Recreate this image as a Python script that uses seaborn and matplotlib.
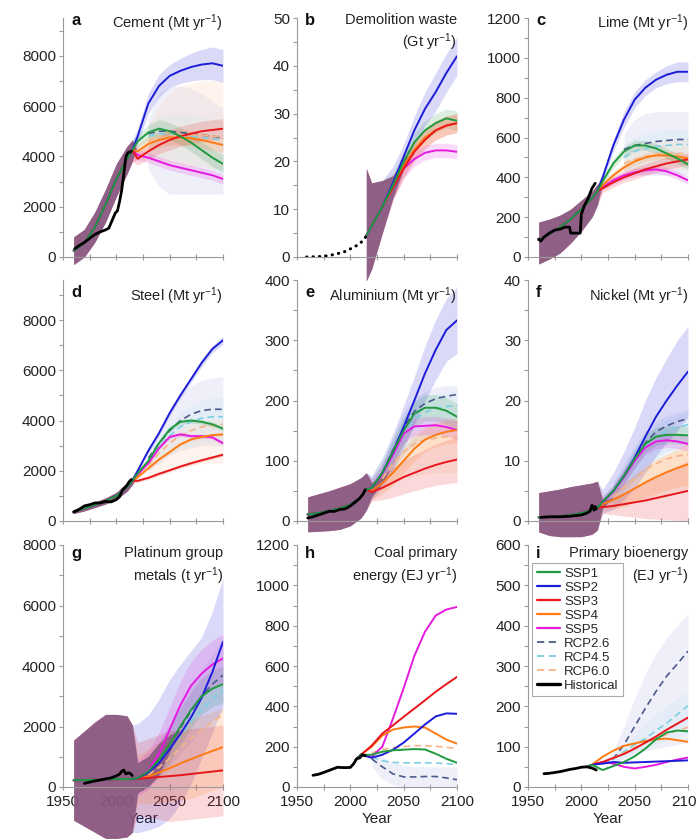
import numpy as np
import pandas as pd
import matplotlib
matplotlib.use("Agg")
import matplotlib.pyplot as plt
from matplotlib.lines import Line2D
from matplotlib.ticker import MultipleLocator, FixedLocator
import seaborn as sns

nan = np.nan

# shared year grids
PAST_YEARS = [1960, 1970, 1980, 1990, 2000, 2010, 2015]
FUT_YEARS = [2020, 2030, 2040, 2050, 2060, 2070, 2080, 2090, 2100]
SSP_NAMES = ["SSP1", "SSP2", "SSP3", "SSP4", "SSP5"]
RCP_NAMES = ["RCP2.6", "RCP4.5", "RCP6.0"]

# ---- a: cement (Mt/yr)
cement_hist_x = [1961, 1965, 1970, 1975, 1980, 1985, 1990, 1993, 1996, 1999, 2001, 2003, 2005, 2007, 2009, 2011, 2014]
cement_hist_y = [330, 450, 580, 740, 900, 1000, 1080, 1150, 1450, 1750, 1830, 2200, 2650, 3300, 4000, 4150, 4200]
cement_fit = [250, 550, 1200, 2100, 3100, 3900, 4250]
cement_fit_lo = [-300, 0, 600, 1400, 2400, 3300, 3800]
cement_fit_hi = [800, 1100, 1800, 2700, 3700, 4400, 4650]
cement_ssp1 = [4600, 4950, 5100, 5000, 4800, 4550, 4250, 3950, 3700]
cement_ssp2 = [4800, 6100, 6800, 7200, 7400, 7550, 7650, 7700, 7600]
cement_ssp3 = [3900, 4200, 4450, 4650, 4800, 4900, 5000, 5050, 5100]
cement_ssp4 = [4200, 4500, 4650, 4750, 4750, 4720, 4650, 4550, 4450]
cement_ssp5 = [4050, 3950, 3800, 3650, 3550, 3450, 3350, 3250, 3100]
cement_hw1 = [250, 300, 350, 350, 350, 350, 350, 350, 350]
cement_hw2 = [300, 400, 450, 450, 500, 550, 600, 650, 650]
cement_hw3 = [250, 300, 350, 400, 400, 400, 400, 400, 400]
cement_hw4 = [250, 300, 300, 300, 300, 300, 300, 300, 300]
cement_hw5 = [200, 200, 200, 200, 200, 200, 200, 200, 200]
cement_rcp26 = [nan, 4900, 5000, 5000, 4950, 4900, 4850, 4800, 4750]
cement_rcp45 = [nan, 4800, 4900, 4900, 4850, 4800, 4750, 4700, 4650]
cement_rcp60 = [nan, 4600, 4750, 4800, 4850, 4850, 4850, 4800, 4800]
cement_rcp26_lo = [nan, 3500, 2800, 2500, 2500, 2500, 2500, 2500, 2500]
cement_rcp26_hi = [nan, 5500, 6500, 6800, 6800, 6700, 6500, 6200, 5900]
cement_rcp45_lo = [nan, 4000, 4000, 3900, 3800, 3700, 3600, 3500, 3400]
cement_rcp45_hi = [nan, 5300, 5600, 5700, 5700, 5700, 5600, 5500, 5400]
cement_rcp60_lo = [nan, 3800, 3800, 3700, 3700, 3600, 3600, 3500, 3500]
cement_rcp60_hi = [nan, 5200, 6000, 6500, 6800, 6900, 7000, 7000, 7000]

# ---- b: demolition waste (Gt/yr)
waste_hist_x = [1959, 1967, 1975, 1981, 1988, 1994, 2000, 2006, 2012, 2015]
waste_hist_y = [0.0, 0.05, 0.15, 0.35, 0.7, 1.05, 1.7, 2.4, 3.4, 4.4]
waste_past_years = [2015]
waste_fit = [4.5]
waste_fit_lo = [-5]
waste_fit_hi = [18.5]
waste_ssp1 = [6.5, 10.5, 15, 20, 24, 26.5, 28, 29, 28.5]
waste_ssp2 = [6.5, 10.5, 15.5, 21, 26.5, 31, 34.5, 38.5, 42]
waste_ssp3 = [6.5, 10.5, 14.5, 18.5, 22, 24.5, 26.5, 27.5, 28]
waste_ssp4 = [6.5, 10.5, 14.5, 19, 22.5, 25, 26.5, 27.5, 28]
waste_ssp5 = [6.5, 10.5, 14.5, 18.5, 20.5, 21.8, 22.3, 22.3, 22]
waste_hw1 = [9, 5.5, 2.5, 2, 2, 2, 2, 2, 2]
waste_hw2 = [9, 5.5, 3.5, 2.5, 3, 3.5, 4, 4, 4]
waste_hw3 = [9, 5.5, 2.5, 2, 2, 2, 2, 2, 2]
waste_hw4 = [9, 5.5, 2.5, 2, 2, 2, 2, 2, 2]
waste_hw5 = [9, 5.5, 2.5, 2, 1.5, 1.5, 1.5, 1.5, 1.5]

# ---- c: lime (Mt/yr)
lime_hist_x = [1960, 1962, 1965, 1970, 1975, 1980, 1985, 1989, 1990, 1995, 1999, 2000, 2003, 2006, 2010, 2013]
lime_hist_y = [90, 80, 100, 120, 135, 140, 150, 150, 120, 120, 120, 215, 260, 290, 345, 370]
lime_fit = [85, 115, 150, 190, 240, 295, 330]
lime_fit_lo = [-35, -10, 20, 70, 130, 200, 260]
lime_fit_hi = [175, 190, 210, 240, 285, 330, 365]
lime_ssp1 = [380, 470, 530, 560, 560, 545, 520, 495, 465]
lime_ssp2 = [400, 560, 690, 790, 850, 890, 915, 930, 930]
lime_ssp3 = [345, 375, 400, 420, 440, 455, 470, 480, 490]
lime_ssp4 = [360, 410, 450, 480, 500, 510, 510, 505, 495]
lime_ssp5 = [350, 385, 410, 425, 435, 440, 430, 410, 385]
lime_hw1 = [20, 25, 25, 25, 25, 25, 25, 25, 25]
lime_hw2 = [20, 30, 40, 40, 40, 40, 45, 50, 50]
lime_hw3 = [20, 25, 25, 30, 30, 30, 30, 30, 30]
lime_hw4 = [20, 20, 20, 20, 20, 20, 20, 20, 20]
lime_hw5 = [15, 20, 20, 20, 20, 20, 20, 20, 20]
lime_rcp26 = [nan, nan, 540, 560, 570, 580, 585, 590, 590]
lime_rcp45 = [nan, nan, 500, 530, 545, 555, 560, 565, 565]
lime_rcp60 = [nan, nan, 470, 490, 505, 515, 520, 520, 520]
lime_rcp26_lo = [nan, nan, 430, 420, 410, 410, 410, 410, 410]
lime_rcp26_hi = [nan, nan, 620, 690, 720, 730, 730, 730, 730]
lime_rcp45_lo = [nan, nan, 440, 450, 460, 460, 460, 460, 460]
lime_rcp45_hi = [nan, nan, 560, 600, 620, 630, 640, 640, 640]
lime_rcp60_lo = [nan, nan, 420, 430, 440, 440, 440, 440, 440]
lime_rcp60_hi = [nan, nan, 520, 550, 570, 580, 590, 590, 590]

# ---- d: steel (Mt/yr)
steel_hist_x = [1960, 1965, 1970, 1975, 1980, 1985, 1990, 1995, 2000, 2003, 2006, 2008, 2010, 2012, 2014]
steel_hist_y = [350, 460, 600, 650, 720, 720, 780, 760, 850, 970, 1250, 1330, 1430, 1560, 1650]
steel_fit = [380, 500, 650, 800, 1000, 1350, 1600]
steel_fit_lo = [300, 400, 540, 680, 860, 1180, 1450]
steel_fit_hi = [460, 600, 760, 920, 1140, 1520, 1750]
steel_ssp1 = [1900, 2400, 3100, 3650, 3950, 4000, 3950, 3850, 3680]
steel_ssp2 = [2000, 2800, 3500, 4300, 5000, 5650, 6300, 6850, 7200]
steel_ssp3 = [1600, 1720, 1880, 2020, 2170, 2300, 2420, 2530, 2640]
steel_ssp4 = [1750, 2100, 2450, 2750, 3050, 3250, 3350, 3420, 3450]
steel_ssp5 = [1850, 2300, 2900, 3350, 3450, 3380, 3380, 3330, 3100]
steel_hw1 = [80, 80, 100, 100, 100, 100, 100, 100, 100]
steel_hw2 = [80, 100, 100, 120, 120, 130, 150, 150, 160]
steel_hw3 = [60, 60, 60, 60, 60, 60, 60, 60, 60]
steel_hw4 = [60, 60, 60, 60, 60, 60, 60, 60, 60]
steel_hw5 = [80, 80, 80, 80, 80, 80, 80, 80, 80]
steel_rcp26 = [nan, 2500, 3100, 3600, 4000, 4250, 4400, 4450, 4450]
steel_rcp45 = [nan, 2400, 2950, 3400, 3750, 3950, 4100, 4150, 4150]
steel_rcp60 = [nan, 2200, 2700, 3100, 3400, 3600, 3750, 3800, 3850]
steel_rcp26_lo = [nan, 2000, 2300, 2600, 2800, 2900, 3000, 3000, 3000]
steel_rcp26_hi = [nan, 2800, 3600, 4400, 5000, 5400, 5600, 5700, 5750]
steel_rcp45_lo = [nan, 2000, 2400, 2700, 2900, 3000, 3100, 3100, 3100]
steel_rcp45_hi = [nan, 2700, 3300, 3900, 4300, 4600, 4800, 4900, 4900]
steel_rcp60_lo = [nan, 1600, 1800, 2000, 2100, 2200, 2300, 2300, 2300]
steel_rcp60_hi = [nan, 2300, 2900, 3400, 3700, 3900, 4000, 4050, 4100]

# ---- e: aluminium (Mt/yr)
alu_hist_x = [1960, 1965, 1970, 1975, 1980, 1985, 1990, 1995, 2000, 2005, 2009, 2012, 2014]
alu_hist_y = [5, 7, 10, 13, 16, 16, 19, 20, 25, 32, 38, 45, 52]
alu_fit = [11, 13, 17, 21, 27, 40, 52]
alu_fit_lo = [-18, -17, -16, -14, -8, 5, 18]
alu_fit_hi = [40, 45, 50, 56, 62, 72, 80]
alu_ssp1 = [55, 80, 115, 150, 178, 188, 188, 183, 173]
alu_ssp2 = [55, 80, 115, 156, 200, 245, 284, 317, 333]
alu_ssp3 = [48, 55, 64, 73, 80, 87, 93, 98, 102]
alu_ssp4 = [50, 63, 80, 100, 120, 135, 143, 148, 151]
alu_ssp5 = [55, 78, 110, 145, 157, 158, 159, 156, 151]
alu_hw1 = [15, 18, 20, 22, 22, 22, 22, 22, 22]
alu_hw2 = [20, 25, 30, 35, 40, 45, 50, 52, 55]
alu_hw3 = [15, 20, 25, 28, 30, 32, 34, 36, 38]
alu_hw4 = [15, 18, 20, 20, 20, 20, 20, 20, 20]
alu_hw5 = [15, 15, 15, 15, 15, 15, 15, 15, 15]
alu_rcp26 = [nan, 80, 118, 155, 182, 195, 203, 207, 210]
alu_rcp45 = [nan, 78, 112, 145, 168, 180, 187, 190, 192]
alu_rcp60 = [nan, 70, 95, 115, 128, 135, 138, 140, 140]
alu_rcp26_lo = [nan, 60, 85, 110, 130, 140, 145, 150, 150]
alu_rcp26_hi = [nan, 95, 140, 180, 205, 215, 222, 225, 225]
alu_rcp45_lo = [nan, 60, 85, 110, 125, 135, 140, 140, 140]
alu_rcp45_hi = [nan, 95, 135, 170, 195, 205, 212, 215, 218]
alu_rcp60_lo = [nan, 50, 60, 70, 75, 78, 80, 80, 80]
alu_rcp60_hi = [nan, 80, 110, 135, 150, 158, 162, 165, 165]

# ---- f: nickel (Mt/yr)
nickel_hist_x = [1962, 1970, 1980, 1990, 2000, 2005, 2008, 2010, 2011, 2012, 2013, 2014]
nickel_hist_y = [0.6, 0.7, 0.7, 0.8, 1.0, 1.3, 1.6, 2.6, 2.2, 1.8, 2.4, 2.0]
nickel_fit = [0.6, 0.7, 0.8, 1.0, 1.3, 1.8, 2.2]
nickel_fit_lo = [-1.8, -2.4, -2.6, -2.6, -2.6, -2.2, -1.5]
nickel_fit_hi = [4.7, 5.0, 5.3, 5.7, 6.0, 6.3, 6.6]
nickel_ssp1 = [3.2, 5.0, 7.5, 10.3, 12.8, 14.0, 14.3, 14.3, 14.2]
nickel_ssp2 = [3.2, 5.0, 7.5, 10.5, 14.0, 17.3, 20.0, 22.5, 24.8]
nickel_ssp3 = [2.3, 2.5, 2.8, 3.1, 3.4, 3.8, 4.2, 4.6, 5.0]
nickel_ssp4 = [2.8, 3.5, 4.4, 5.4, 6.4, 7.3, 8.1, 8.8, 9.4]
nickel_ssp5 = [3.1, 4.9, 7.3, 10.0, 12.2, 13.2, 13.4, 13.2, 12.8]
nickel_hw1 = [1, 1, 1.2, 1.5, 1.5, 1.5, 1.5, 1.5, 1.5]
nickel_hw2 = [2, 3, 4, 5, 6, 6.5, 7, 7.5, 7.5]
nickel_hw3 = [1, 1.5, 2, 2.5, 3, 3.5, 4, 4.5, 5]
nickel_hw4 = [1, 1.5, 2, 2.2, 2.5, 2.8, 3, 3.2, 3.5]
nickel_hw5 = [1, 1, 1.2, 1.2, 1.2, 1.2, 1.2, 1.2, 1.2]
nickel_rcp26 = [nan, 5.0, 7.5, 10.3, 13.0, 14.8, 15.8, 16.5, 17.0]
nickel_rcp45 = [nan, 4.9, 7.3, 10.0, 12.5, 14.0, 15.0, 15.5, 16.0]
nickel_rcp60 = [nan, 4.0, 5.5, 7.0, 8.5, 9.5, 10.3, 10.8, 11.0]
nickel_rcp26_lo = [nan, 3.5, 5, 7, 9, 10.5, 11.5, 12, 12.5]
nickel_rcp26_hi = [nan, 6.5, 9.5, 12.5, 15, 16.5, 17.5, 18, 18.5]
nickel_rcp45_lo = [nan, 3.5, 5, 7, 8.5, 10, 11, 11.5, 12]
nickel_rcp45_hi = [nan, 6, 9, 12, 14.5, 16, 17, 17.5, 18]
nickel_rcp60_lo = [nan, 2, 2.5, 3, 3.5, 4, 4.5, 5, 5]
nickel_rcp60_hi = [nan, 5, 6.5, 8, 9.5, 10.5, 11, 11.5, 12]

# ---- g: platinum group metals (t/yr)
pgm_hist_x = [1970, 1975, 1980, 1985, 1990, 1995, 2000, 2003, 2005, 2007, 2008, 2009, 2011, 2013, 2015]
pgm_hist_y = [120, 160, 200, 230, 270, 300, 370, 420, 520, 560, 480, 430, 470, 450, 380]
pgm_fit = [220, 230, 240, 250, 260, 265, 270]
pgm_fit_lo = [-1100, -1300, -1500, -1700, -1700, -1650, -1500]
pgm_fit_hi = [1550, 1850, 2150, 2400, 2400, 2350, 2050]
pgm_ssp1 = [300, 520, 900, 1400, 2000, 2550, 3000, 3250, 3400]
pgm_ssp2 = [290, 480, 800, 1250, 1750, 2300, 2950, 3800, 4800]
pgm_ssp3 = [270, 300, 330, 360, 390, 430, 470, 510, 550]
pgm_ssp4 = [280, 350, 480, 620, 780, 920, 1060, 1190, 1320]
pgm_ssp5 = [300, 550, 1100, 1900, 2700, 3350, 3750, 4050, 4250]
pgm_hw1 = [500, 500, 550, 600, 600, 600, 600, 600, 600]
pgm_hw2 = [1800, 1900, 2100, 2300, 2300, 2200, 2000, 2000, 2100]
pgm_hw3 = [1200, 1300, 1400, 1500, 1500, 1500, 1500, 1500, 1500]
pgm_hw4 = [800, 900, 1000, 1100, 1200, 1300, 1300, 1300, 1300]
pgm_hw5 = [600, 650, 700, 750, 800, 800, 800, 800, 800]
pgm_rcp26 = [nan, 520, 900, 1400, 1950, 2500, 3000, 3400, 3700]
pgm_rcp45 = [nan, 480, 820, 1250, 1700, 2150, 2550, 2900, 3200]
pgm_rcp60 = [nan, 400, 650, 950, 1300, 1600, 1900, 2150, 2400]
pgm_rcp26_lo = [nan, 0, 300, 700, 1100, 1500, 1900, 2200, 2500]
pgm_rcp26_hi = [nan, 900, 1500, 2100, 2700, 3300, 3900, 4400, 4900]

# ---- h: coal primary energy (EJ/yr)
coal_hist_x = [1965, 1970, 1975, 1980, 1985, 1988, 1990, 1995, 2000, 2003, 2006, 2009, 2011, 2014]
coal_hist_y = [58, 63, 72, 82, 92, 98, 97, 96, 97, 115, 140, 145, 160, 155]
coal_past_years = [2005, 2010]
coal_fit = [135, 160]
coal_ssp1 = [160, 175, 182, 185, 188, 186, 165, 140, 120]
coal_ssp2 = [145, 160, 185, 220, 265, 310, 350, 365, 363]
coal_ssp3 = [205, 265, 306, 348, 389, 430, 472, 510, 546]
coal_ssp4 = [200, 255, 285, 295, 300, 295, 265, 235, 215]
coal_ssp5 = [150, 200, 340, 490, 650, 770, 850, 880, 893]
coal_rcp26 = [140, 100, 65, 50, 50, 52, 52, 45, 36]
coal_rcp45 = [150, 130, 122, 120, 120, 120, 119, 116, 110]
coal_rcp60 = [170, 185, 195, 200, 205, 205, 202, 197, 190]
coal_rcp26_lo = [100, 40, 10, 0, 0, 0, 0, 0, 0]
coal_rcp26_hi = [170, 150, 120, 110, 100, 100, 100, 100, 100]

# ---- i: primary bioenergy (EJ/yr)
bio_hist_x = [1965, 1970, 1975, 1980, 1985, 1990, 1995, 2000, 2005, 2010, 2014]
bio_hist_y = [33, 34, 36, 38, 41, 44, 46, 49, 50, 47, 42]
bio_past_years = [2005, 2010]
bio_fit = [50, 55]
bio_ssp1 = [42, 52, 62, 76, 95, 118, 135, 140, 138]
bio_ssp2 = [58, 62, 60, 61, 62, 63, 64, 65, 66]
bio_ssp3 = [62, 72, 82, 95, 110, 125, 142, 157, 172]
bio_ssp4 = [75, 90, 102, 108, 114, 118, 120, 116, 112]
bio_ssp5 = [62, 58, 50, 46, 50, 55, 62, 68, 73]
bio_rcp26 = [58, 70, 105, 150, 195, 237, 275, 305, 337]
bio_rcp45 = [58, 70, 88, 105, 120, 140, 158, 180, 202]
bio_rcp60 = [60, 72, 85, 98, 110, 120, 130, 140, 148]
bio_rcp26_lo = [55, 60, 70, 80, 90, 95, 100, 105, 110]
bio_rcp26_hi = [60, 90, 150, 220, 280, 330, 370, 400, 430]
bio_rcp45_lo = [55, 60, 70, 85, 95, 105, 115, 125, 135]
bio_rcp45_hi = [60, 80, 105, 130, 155, 180, 200, 220, 235]

SSP_COLORS = ["#1f9a3f", "#1c1cd8", "#e8161b", "#ff7a12", "#e619e0"]
RCP_COLORS = ["#4b5a8c", "#7ccfe0", "#f6b487"]
RCP_BAND_COLORS = ["#c3c3ee", "#c4eaf0", "#fcd6bb"]
OVERLAP_COLOR = "#85577f"

panels = [
    dict(letter="a", title=["Cement (Mt yr$^{-1}$)"], top=9500, major=2000, minor=1000,
         past=PAST_YEARS, fit=cement_fit, fit_lo=cement_fit_lo, fit_hi=cement_fit_hi,
         ssp=[cement_ssp1, cement_ssp2, cement_ssp3, cement_ssp4, cement_ssp5],
         hw=[cement_hw1, cement_hw2, cement_hw3, cement_hw4, cement_hw5],
         rcp=[cement_rcp26, cement_rcp45, cement_rcp60],
         rcp_lo=[cement_rcp26_lo, cement_rcp45_lo, cement_rcp60_lo],
         rcp_hi=[cement_rcp26_hi, cement_rcp45_hi, cement_rcp60_hi],
         hx=cement_hist_x, hy=cement_hist_y, dotted=False),
    dict(letter="b", title=["Demolition waste", "(Gt yr$^{-1}$)"], top=50, major=10, minor=5,
         past=waste_past_years, fit=waste_fit, fit_lo=waste_fit_lo, fit_hi=waste_fit_hi,
         ssp=[waste_ssp1, waste_ssp2, waste_ssp3, waste_ssp4, waste_ssp5],
         hw=[waste_hw1, waste_hw2, waste_hw3, waste_hw4, waste_hw5],
         rcp=None, rcp_lo=None, rcp_hi=None,
         hx=waste_hist_x, hy=waste_hist_y, dotted=True),
    dict(letter="c", title=["Lime (Mt yr$^{-1}$)"], top=1200, major=200, minor=100,
         past=PAST_YEARS, fit=lime_fit, fit_lo=lime_fit_lo, fit_hi=lime_fit_hi,
         ssp=[lime_ssp1, lime_ssp2, lime_ssp3, lime_ssp4, lime_ssp5],
         hw=[lime_hw1, lime_hw2, lime_hw3, lime_hw4, lime_hw5],
         rcp=[lime_rcp26, lime_rcp45, lime_rcp60],
         rcp_lo=[lime_rcp26_lo, lime_rcp45_lo, lime_rcp60_lo],
         rcp_hi=[lime_rcp26_hi, lime_rcp45_hi, lime_rcp60_hi],
         hx=lime_hist_x, hy=lime_hist_y, dotted=False),
    dict(letter="d", title=["Steel (Mt yr$^{-1}$)"], top=9600, major=2000, minor=1000,
         past=PAST_YEARS, fit=steel_fit, fit_lo=steel_fit_lo, fit_hi=steel_fit_hi,
         ssp=[steel_ssp1, steel_ssp2, steel_ssp3, steel_ssp4, steel_ssp5],
         hw=[steel_hw1, steel_hw2, steel_hw3, steel_hw4, steel_hw5],
         rcp=[steel_rcp26, steel_rcp45, steel_rcp60],
         rcp_lo=[steel_rcp26_lo, steel_rcp45_lo, steel_rcp60_lo],
         rcp_hi=[steel_rcp26_hi, steel_rcp45_hi, steel_rcp60_hi],
         hx=steel_hist_x, hy=steel_hist_y, dotted=False),
    dict(letter="e", title=["Aluminium (Mt yr$^{-1}$)"], top=400, major=100, minor=50,
         past=PAST_YEARS, fit=alu_fit, fit_lo=alu_fit_lo, fit_hi=alu_fit_hi,
         ssp=[alu_ssp1, alu_ssp2, alu_ssp3, alu_ssp4, alu_ssp5],
         hw=[alu_hw1, alu_hw2, alu_hw3, alu_hw4, alu_hw5],
         rcp=[alu_rcp26, alu_rcp45, alu_rcp60],
         rcp_lo=[alu_rcp26_lo, alu_rcp45_lo, alu_rcp60_lo],
         rcp_hi=[alu_rcp26_hi, alu_rcp45_hi, alu_rcp60_hi],
         hx=alu_hist_x, hy=alu_hist_y, dotted=False),
    dict(letter="f", title=["Nickel (Mt yr$^{-1}$)"], top=40, major=10, minor=5,
         past=PAST_YEARS, fit=nickel_fit, fit_lo=nickel_fit_lo, fit_hi=nickel_fit_hi,
         ssp=[nickel_ssp1, nickel_ssp2, nickel_ssp3, nickel_ssp4, nickel_ssp5],
         hw=[nickel_hw1, nickel_hw2, nickel_hw3, nickel_hw4, nickel_hw5],
         rcp=[nickel_rcp26, nickel_rcp45, nickel_rcp60],
         rcp_lo=[nickel_rcp26_lo, nickel_rcp45_lo, nickel_rcp60_lo],
         rcp_hi=[nickel_rcp26_hi, nickel_rcp45_hi, nickel_rcp60_hi],
         hx=nickel_hist_x, hy=nickel_hist_y, dotted=False),
    dict(letter="g", title=["Platinum group", "metals (t yr$^{-1}$)"], top=8000, major=2000, minor=1000,
         past=PAST_YEARS, fit=pgm_fit, fit_lo=pgm_fit_lo, fit_hi=pgm_fit_hi,
         ssp=[pgm_ssp1, pgm_ssp2, pgm_ssp3, pgm_ssp4, pgm_ssp5],
         hw=[pgm_hw1, pgm_hw2, pgm_hw3, pgm_hw4, pgm_hw5],
         rcp=[pgm_rcp26, pgm_rcp45, pgm_rcp60],
         rcp_lo=[pgm_rcp26_lo, None, None], rcp_hi=[pgm_rcp26_hi, None, None],
         hx=pgm_hist_x, hy=pgm_hist_y, dotted=False),
    dict(letter="h", title=["Coal primary", "energy (EJ yr$^{-1}$)"], top=1200, major=200, minor=100,
         past=coal_past_years, fit=coal_fit, fit_lo=None, fit_hi=None,
         ssp=[coal_ssp1, coal_ssp2, coal_ssp3, coal_ssp4, coal_ssp5], hw=None,
         rcp=[coal_rcp26, coal_rcp45, coal_rcp60],
         rcp_lo=[coal_rcp26_lo, None, None], rcp_hi=[coal_rcp26_hi, None, None],
         hx=coal_hist_x, hy=coal_hist_y, dotted=False),
    dict(letter="i", title=["Primary bioenergy", "(EJ yr$^{-1}$)"], top=600, major=100, minor=50,
         past=bio_past_years, fit=bio_fit, fit_lo=None, fit_hi=None,
         ssp=[bio_ssp1, bio_ssp2, bio_ssp3, bio_ssp4, bio_ssp5], hw=None,
         rcp=[bio_rcp26, bio_rcp45, bio_rcp60],
         rcp_lo=[bio_rcp26_lo, bio_rcp45_lo, None], rcp_hi=[bio_rcp26_hi, bio_rcp45_hi, None],
         hx=bio_hist_x, hy=bio_hist_y, dotted=False),
]

sns.set_theme(style="ticks")
plt.rcParams["font.family"] = ["Liberation Sans", "DejaVu Sans"]
plt.rcParams["mathtext.fontset"] = "custom"
plt.rcParams["mathtext.rm"] = "Liberation Sans"
plt.rcParams["mathtext.it"] = "Liberation Sans:italic"
plt.rcParams["mathtext.bf"] = "Liberation Sans:bold"

W, H = 696, 840
fig = plt.figure(figsize=(W / 100, H / 100), dpi=100)

col_left = [63, 297, 528]
col_width = 160
row_top = [18, 280, 545]
row_bottom = [257, 521, 787]
title_y = [1.022, 0.978, 0.996]
title_step_px = 19
axis_grey = "#9a9a9a"
text_dark = "#222222"


def draw_panel(ax, p):
    fut = np.array(FUT_YEARS, dtype=float)

    # RCP uncertainty bands (pale)
    if p["rcp_lo"] is not None:
        for lo, hi, c in zip(p["rcp_lo"], p["rcp_hi"], RCP_BAND_COLORS):
            if lo is None:
                continue
            ax.fill_between(fut, np.array(lo, float), np.array(hi, float), color=c,
                            alpha=0.25, lw=0, clip_on=False, zorder=1)

    # SSP bands; where all five overlap the mix turns dark mauve
    if p["hw"] is not None:
        x = np.array(list(p["past"]) + FUT_YEARS, float)
        los, his = [], []
        for vals, hw, c in zip(p["ssp"], p["hw"], SSP_COLORS):
            v = np.array(vals, float)
            h = np.array(hw, float)
            lo = np.concatenate([p["fit_lo"], v - h])
            hi = np.concatenate([p["fit_hi"], v + h])
            los.append(lo)
            his.append(hi)
            ax.fill_between(x, lo, hi, color=c, alpha=0.16, lw=0, clip_on=False, zorder=1.3)
        common_lo = np.max(los, axis=0)
        common_hi = np.min(his, axis=0)
        ax.fill_between(x, common_lo, common_hi, where=common_hi > common_lo, interpolate=True,
                        color=OVERLAP_COLOR, alpha=0.85, lw=0, clip_on=False, zorder=1.4)

    # RCP dashed lines
    if p["rcp"] is not None:
        rows = []
        for name, vals in zip(RCP_NAMES, p["rcp"]):
            for yr, v in zip(FUT_YEARS, vals):
                if not np.isnan(v):
                    rows.append((yr, v, name))
        df_rcp = pd.DataFrame(rows, columns=["year", "value", "scenario"])
        sns.lineplot(data=df_rcp, x="year", y="value", hue="scenario", style="scenario",
                     palette=dict(zip(RCP_NAMES, RCP_COLORS)),
                     dashes={n: (4, 2.5) for n in RCP_NAMES},
                     linewidth=1.2, legend=False, ax=ax, zorder=2)

    # SSP lines (SSP1 drawn last so it sits on top over the fitted period)
    rows = []
    for name, vals in zip(SSP_NAMES, p["ssp"]):
        for yr, v in zip(list(p["past"]) + FUT_YEARS, list(p["fit"]) + list(vals)):
            rows.append((yr, v, name))
    df_ssp = pd.DataFrame(rows, columns=["year", "value", "scenario"])
    sns.lineplot(data=df_ssp, x="year", y="value", hue="scenario",
                 hue_order=SSP_NAMES[::-1],
                 palette=dict(zip(SSP_NAMES, SSP_COLORS)),
                 linewidth=1.4, legend=False, ax=ax, zorder=3)

    # historical
    if p["dotted"]:
        ax.plot(p["hx"], p["hy"], color="black", lw=2.2, linestyle=(0, (0.1, 2.0)),
                dash_capstyle="round", zorder=4)
    else:
        ax.plot(p["hx"], p["hy"], color="black", lw=2.0, zorder=4)

    ax.set_xlim(1950, 2100)
    ax.set_ylim(0, p["top"])
    ax.yaxis.set_major_locator(MultipleLocator(p["major"]))
    ax.yaxis.set_minor_locator(MultipleLocator(p["minor"]))
    ax.xaxis.set_major_locator(FixedLocator([1950, 2000, 2050, 2100]))
    ax.xaxis.set_minor_locator(FixedLocator([1975, 2025, 2075]))
    ax.set_xlabel("")
    ax.set_ylabel("")
    ax.set_facecolor("none")
    for s in ["top", "right"]:
        ax.spines[s].set_visible(False)
    for s in ["left", "bottom"]:
        ax.spines[s].set_color(axis_grey)
        ax.spines[s].set_linewidth(0.8)
    ax.tick_params(axis="y", which="both", direction="out", length=3, width=0.8,
                   color=axis_grey, labelsize=11, labelcolor=text_dark, pad=2)
    ax.tick_params(axis="x", which="both", direction="inout", length=4, width=0.8,
                   color=axis_grey, labelsize=11, labelcolor=text_dark, pad=4)


for idx, p in enumerate(panels):
    r, c = divmod(idx, 3)
    left = col_left[c] / W
    bottom = 1 - row_bottom[r] / H
    height_px = row_bottom[r] - row_top[r]
    ax = fig.add_axes([left, bottom, col_width / W, height_px / H])
    draw_panel(ax, p)
    ty = title_y[r]
    ax.text(0.05, ty, p["letter"], transform=ax.transAxes, ha="left", va="top",
            fontsize=12, fontweight="bold", color="#111111")
    for k, line in enumerate(p["title"]):
        ax.text(1.0, ty - k * title_step_px / height_px, line, transform=ax.transAxes,
                ha="right", va="top", fontsize=10.5, color=text_dark)
    if r < 2:
        ax.tick_params(axis="x", labelbottom=False)
    else:
        ax.set_xlabel("Year", fontsize=11, color=text_dark, labelpad=2)

    if p["letter"] == "i":
        handles = [Line2D([], [], color=col, lw=1.6) for col in SSP_COLORS]
        handles += [Line2D([], [], color=col, lw=1.3, linestyle=(0, (4, 2.5))) for col in RCP_COLORS]
        handles.append(Line2D([], [], color="black", lw=2.4))
        leg = ax.legend(handles, SSP_NAMES + RCP_NAMES + ["Historical"], loc="upper left",
                        bbox_to_anchor=(0.025, 0.925), borderaxespad=0, fontsize=9.5,
                        handlelength=1.8, handletextpad=0.3, labelspacing=0.13,
                        borderpad=0.35, fancybox=False, framealpha=1, edgecolor="#aaaaaa")
        leg.get_frame().set_linewidth(0.8)

fig.savefig("out.png", dpi=100)
